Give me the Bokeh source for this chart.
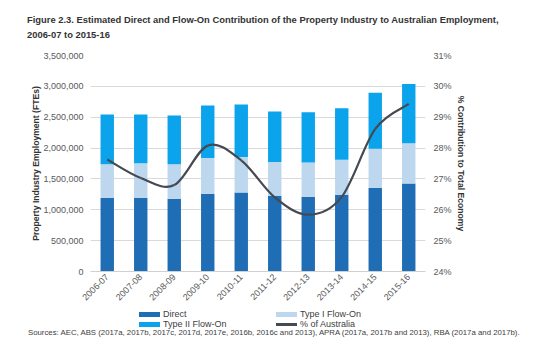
import numpy as np
from bokeh.plotting import figure
from bokeh.layouts import column
from bokeh.models import (Range1d, LinearAxis, FixedTicker, NumeralTickFormatter,
                          ColumnDataSource, Div)
from bokeh.embed import file_html
from bokeh.resources import INLINE

# ---- data ----
years = ["2006-07", "2007-08", "2008-09", "2009-10", "2010-11",
         "2011-12", "2012-13", "2013-14", "2014-15", "2015-16"]
direct = [1190000, 1190000, 1180000, 1260000, 1280000,
          1225000, 1210000, 1245000, 1355000, 1425000]
type1 = [547000, 563000, 557000, 580000, 575000,
         550000, 555000, 565000, 635000, 655000]
type2 = [807000, 791000, 790000, 850000, 850000,
         817000, 815000, 835000, 908000, 960000]
pct_aus = [0.2763, 0.2703, 0.2680, 0.2808, 0.2760,
           0.2640, 0.2584, 0.2642, 0.2862, 0.2943]
left_ticks = [0, 500000, 1000000, 1500000, 2000000, 2500000, 3000000, 3500000]
right_ticks = [0.24, 0.25, 0.26, 0.27, 0.28, 0.29, 0.30, 0.31]
series_names = ["Direct", "Type I Flow-On", "Type II Flow-On", "% of Australia"]
title_lines = ["Figure 2.3. Estimated Direct and Flow-On Contribution of the Property Industry to Australian Employment,",
               "2006-07 to 2015-16"]
source_text = "Sources: AEC, ABS (2017a, 2017b, 2017c, 2017d, 2017e, 2016b, 2016c and 2013), APRA (2017a, 2017b and 2013), RBA (2017a and 2017b)."

FONT = "Liberation Sans"
GRAY = "#595959"
C_DIRECT = "#1F6DB4"
C_T1 = "#BDD7EE"
C_T2 = "#0BA3EC"
C_LINE = "#454A52"

xs = list(range(len(years)))

p = figure(width=554, height=263, output_backend="svg", toolbar_location=None,
           title=None,
           x_range=Range1d(-0.5, len(years) - 0.5), y_range=Range1d(0, 3500000),
           min_border_left=90, min_border_right=129, min_border_top=10,
           min_border_bottom=37, outline_line_color=None)
p.extra_y_ranges = {"pct": Range1d(0.24, 0.31)}

src = ColumnDataSource(dict(x=xs, direct=direct, type1=type1, type2=type2))
p.vbar_stack(["direct", "type1", "type2"], x="x", width=0.4, source=src,
             color=[C_DIRECT, C_T1, C_T2], line_color=None)

# smooth line (Catmull-Rom style bezier through the data points)
X = np.array(xs, dtype=float)
Y = np.array(pct_aus, dtype=float)
Xp = np.concatenate([[X[0]], X, [X[-1]]])
Yp = np.concatenate([[Y[0]], Y, [Y[-1]]])
n = len(X)
x0 = X[:-1]; y0 = Y[:-1]; x1 = X[1:]; y1 = Y[1:]
cx0 = x0 + (Xp[2:n + 1] - Xp[0:n - 1]) / 6.0
cy0 = y0 + (Yp[2:n + 1] - Yp[0:n - 1]) / 6.0
cx1 = x1 - (Xp[3:n + 2] - Xp[1:n]) / 6.0
cy1 = y1 - (Yp[3:n + 2] - Yp[1:n]) / 6.0
p.bezier(x0=x0, y0=y0, x1=x1, y1=y1, cx0=cx0, cy0=cy0, cx1=cx1, cy1=cy1,
         line_color=C_LINE, line_width=2.2, y_range_name="pct")

# axes
p.xgrid.grid_line_color = None
p.ygrid.grid_line_color = "#D9D9D9"
p.ygrid.ticker = FixedTicker(ticks=left_ticks)

ya = p.yaxis[0]
ya.ticker = FixedTicker(ticks=left_ticks)
ya.formatter = NumeralTickFormatter(format="0,0")
ya.axis_line_color = None
ya.major_tick_line_color = None
ya.minor_tick_line_color = None
ya.major_tick_out = 0
ya.major_tick_in = 0
ya.major_label_standoff = 7
ya.major_label_text_font = FONT
ya.major_label_text_font_size = "9px"
ya.major_label_text_color = GRAY
ya.axis_label = "Property Industry Employment (FTEs)"
ya.axis_label_text_font = FONT
ya.axis_label_text_font_size = "8.6px"
ya.axis_label_text_font_style = "bold"
ya.axis_label_text_color = "#333333"
ya.axis_label_standoff = -1

ra = LinearAxis(y_range_name="pct", ticker=FixedTicker(ticks=right_ticks),
                formatter=NumeralTickFormatter(format="0%"))
ra.axis_line_color = None
ra.major_tick_line_color = None
ra.minor_tick_line_color = None
ra.major_tick_out = 0
ra.major_tick_in = 0
ra.major_label_standoff = 8
ra.major_label_text_font = FONT
ra.major_label_text_font_size = "9px"
ra.major_label_text_color = GRAY
ra.axis_label = "% Contribution to Total Economy"
ra.axis_label_text_font = FONT
ra.axis_label_text_font_size = "8.6px"
ra.axis_label_text_font_style = "bold"
ra.axis_label_text_color = "#333333"
ra.axis_label_standoff = 1
p.add_layout(ra, "right")

xa = p.xaxis[0]
xa.ticker = FixedTicker(ticks=xs)
xa.major_label_overrides = {i: y for i, y in zip(xs, years)}
xa.major_label_orientation = np.pi / 4
xa.axis_line_color = "#D0D0D0"
xa.major_tick_line_color = None
xa.minor_tick_line_color = None
xa.major_tick_out = 0
xa.major_tick_in = 0
xa.major_label_standoff = 4
xa.major_label_text_font = FONT
xa.major_label_text_font_size = "9px"
xa.major_label_text_color = GRAY


def txt(left, top, s, size, extra=""):
    return (f'<div style="position:absolute;left:{left}px;top:{top}px;font-size:{size}px;'
            f'line-height:10px;white-space:nowrap;{extra}">{s}</div>')


def swatch(left, top, w, h, color):
    return (f'<div style="position:absolute;left:{left}px;top:{top}px;width:{w}px;'
            f'height:{h}px;background:{color};"></div>')


# ---- title strip (HTML) ----
t_parts = [txt(27, 15, title_lines[0], 9.4, "font-weight:bold;"),
           txt(27, 30, title_lines[1], 9.4, "font-weight:bold;")]
title_div = Div(text=(f'<div style="position:relative;width:554px;height:45px;'
                      f'font-family:\'{FONT}\';color:#333333;">' + "".join(t_parts) + '</div>'),
                width=554, height=45, margin=0)

# ---- legend + source strip (HTML) ----
legend_specs = [(139, 3.5, 5, C_DIRECT), (276, 3.5, 5, C_T1),
                (139, 13.5, 5, C_T2), (276, 14.5, 3, C_LINE)]
parts = []
for (lx, ty, hh, col), name in zip(legend_specs, series_names):
    parts.append(swatch(lx, ty, 21, hh, col))
    parts.append(txt(lx + 24, 1 if ty < 10 else 11, name, 9))
parts.append(txt(28, 20, source_text, 7.8))
bottom_div = Div(text=(f'<div style="position:relative;width:554px;height:47px;'
                       f'font-family:\'{FONT}\';color:#404040;">' + "".join(parts) + '</div>'),
                 width=554, height=47, margin=0)

open("out.html", "w").write(file_html(column(title_div, p, bottom_div, spacing=0), INLINE))
